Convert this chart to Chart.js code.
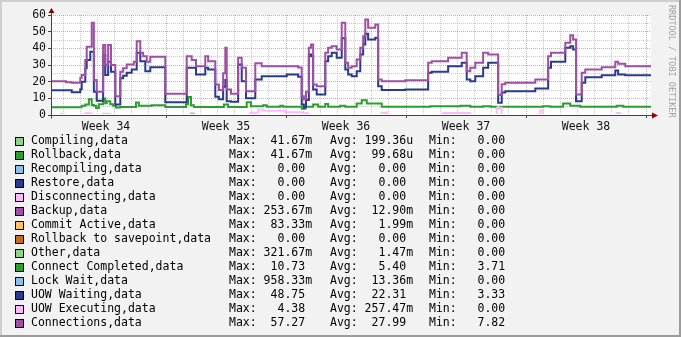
<!DOCTYPE html>
<html>
<head>
<meta charset="utf-8">
<script src="https://cdn.jsdelivr.net/npm/chart.js@4.4.0/dist/chart.umd.min.js"></script>
<style>
  html, body { margin: 0; padding: 0; background: #f2f2f2; }
  #wrap { width: 681px; height: 337px; }
</style>
</head>
<body>
<div id="wrap"><canvas id="rrdChart" width="681" height="337"></canvas></div>
<script>
// time axis: hours since Monday 00:00 of week 34
const spanStart = 7;
const spanEnd = 847;

const weekLabels = ['Week 34', 'Week 35', 'Week 36', 'Week 37', 'Week 38'];
const yTicks = [0, 5, 10, 15, 20, 25, 30, 35, 40, 45, 50, 55, 60];

// Connections / UOW Waiting share their sample times
const connHours = [7, 28, 36, 48, 50, 55, 57, 62, 64, 67, 71, 80, 83, 87, 91, 97, 104, 108, 113, 120,
  123, 127, 132, 136, 139, 141, 146, 167, 197, 204, 210, 223, 227, 237, 242, 248, 251, 253, 259, 269,
  274, 280, 293, 302, 337, 353, 358, 361, 364, 368, 371, 374, 379, 391, 395, 400, 407, 414, 419, 423,
  428, 435, 440, 444, 447, 451, 461, 465, 470, 503, 535, 540, 563, 582, 589, 594, 601, 612, 619, 633,
  638, 643, 685, 703, 707, 727, 734, 738, 742, 750, 755, 778, 797, 801, 811, 847];
const connections = [20.3, 19.6, 19.3, 22.4, 24, 33, 41, 41, 55.3, 21, 14, 42, 30, 42, 30, 11.3, 26, 28, 30.3, 30.3,
  32, 44.3, 37.3, 35.3, 35.3, 32, 35, 12.7, 35.3, 33, 29.3, 35.3, 32.3, 18.3, 15, 25, 40.3, 15.3, 12.7, 34.3,
  28.3, 14.3, 31, 29.3, 29.3, 28.5, 11.3, 9.3, 14, 40.3, 42.3, 18.3, 17.3, 37.3, 40.3, 41.3, 39.3, 55.3, 31.3, 28.3,
  29.3, 33.3, 40.3, 47.3, 57.27, 52.3, 54.3, 21.3, 20.3, 20.8, 31.3, 32.3, 34.3, 37.3, 26.3, 28.3, 31.3, 37.3, 36.3, 12,
  18.5, 19.3, 21.3, 35.3, 37.3, 43.3, 47.9, 45.3, 12.3, 25.3, 27.3, 28.7, 31.9, 30.7, 29.3, 29.3];
const uowWaiting = [14.9, 14.9, 13.7, 15.5, 20, 28, 33, 38, 38, 14, 8.5, 36, 24, 32, 26, 6.3, 22, 23.5, 25.3, 27.3,
  27.3, 37.3, 32.3, 32.3, 26.3, 26.3, 28.7, 7.7, 28.3, 28.3, 24.3, 28.3, 27.3, 11, 9.5, 17, 21, 8.3, 8, 30.3,
  20.3, 10, 21.3, 23.3, 24.3, 23, 6.3, 4.5, 9, 36.3, 35.3, 15.3, 12.3, 32.3, 35.3, 37.3, 34.3, 46, 27.3, 24.3,
  23.3, 26.3, 36.3, 42.3, 48.75, 45.3, 46.3, 17.3, 15, 15.3, 25.3, 26, 29.3, 31.3, 21.3, 20.3, 23.3, 28.3, 31.3, 7.3,
  13.5, 14.3, 15.9, 28.3, 31.9, 40.3, 41.3, 39.3, 8.3, 19.3, 22.7, 23.9, 26.7, 24.3, 23.9, 23.9];

const completedHours = [7, 48, 50, 55, 60, 64, 67, 70, 74, 80, 83, 85, 90, 94, 98, 104, 126, 130, 148, 167,
  196, 199, 203, 207, 249, 255, 281, 287, 304, 309, 328, 332, 358, 363, 374, 381, 391, 395, 412, 419,
  435, 442, 449, 470, 538, 580, 594, 612, 622, 631, 636, 696, 706, 724, 734, 748, 799, 808, 847];
const connectCompleted = [4.7, 4.7, 5.5, 6.3, 9.5, 6, 5.5, 4.2, 6.5, 9.9, 7, 8.3, 6.5, 5.5, 4.5, 4.8, 7.5, 5.6, 5.8, 4.8,
  6.5, 10.73, 5.8, 4.8, 6.3, 4.8, 7.7, 5.2, 5.9, 5, 5.6, 5, 3.71, 5, 6.3, 5, 6.6, 5, 5.6, 5,
  6.9, 8.9, 6.9, 4.9, 5.3, 5.6, 5, 5.3, 5, 4.2, 4.9, 5.3, 5, 6.9, 5.5, 5, 5.6, 4.9, 4.9];

const execHours = [7, 21, 25, 55, 64, 80, 90, 286, 297, 304, 335, 360, 367, 470, 477, 556, 594, 631, 638, 692, 696, 799, 804, 847];
const uowExecuting = [0, 0.8, 0, 1, 0, 0.8, 0, 1.3, 3.3, 2.5, 1.6, 1, 0, 1.3, 0, 1.2, 0, 4.38, 0, 2.7, 0, 1, 0, 0];

const lockHours = [7, 203, 207, 800, 803, 847];
const lockWait = [0, 0.96, 0, 0.9, 0, 0];

// series that stay at (practically) zero for the whole span
const idleHours = [7, 847];
const idle = [0, 0];

const seriesNames = ['Compiling,data', 'Rollback,data', 'Recompiling,data', 'Restore,data',
  'Disconnecting,data', 'Backup,data', 'Commit Active,data', 'Rollback to savepoint,data',
  'Other,data', 'Connect Completed,data', 'Lock Wait,data', 'UOW Waiting,data',
  'UOW Executing,data', 'Connections,data'];
const seriesColors = ['#8fd48a', '#2e9c2e', '#8cc2e6', '#2b3a8c', '#ffb9ff', '#9f4fa4', '#ffc25e', '#c46c1e',
  '#8fd48a', '#2e9c2e', '#8cc2e6', '#2b3a8c', '#ffb9ff', '#9f4fa4'];
const maxText = ['41.67m', '41.67m', '0.00', '0.00', '0.00', '253.67m', '83.33m', '0.00', '321.67m', '10.73', '958.33m', '48.75', '4.38', '57.27'];
const avgText = ['199.36u', '99.68u', '0.00', '0.00', '0.00', '12.90m', '1.99m', '0.00', '1.47m', '5.40', '13.36m', '22.31', '257.47m', '27.99'];
const minText = ['0.00', '0.00', '0.00', '0.00', '0.00', '0.00', '0.00', '0.00', '0.00', '3.71', '0.00', '3.33', '0.00', '7.82'];

const MONO = '"DejaVu Sans Mono", monospace';
const GRID = 'rgba(140,140,140,0.45)';
const MGRID = 'rgba(220,60,60,0.5)';

const pts = (xs, ys) => xs.map((x, i) => ({ x: x, y: ys[i] }));

const seriesData = [
  pts(idleHours, idle), pts(idleHours, idle), pts(idleHours, idle), pts(idleHours, idle),
  pts(idleHours, idle), pts(idleHours, idle), pts(idleHours, idle), pts(idleHours, idle),
  pts(idleHours, idle), pts(completedHours, connectCompleted), pts(lockHours, lockWait),
  pts(connHours, uowWaiting), pts(execHours, uowExecuting), pts(connHours, connections)
];

const datasets = seriesNames.map((name, i) => ({
  label: name,
  data: seriesData[i],
  borderColor: seriesColors[i],
  borderWidth: i < 9 ? 1 : 2,
  stepped: 'before',
  pointRadius: 0,
  fill: false,
  order: seriesNames.length - i,
  clip: { left: 0, top: 0, right: 0, bottom: -1 }
}));

// two pixel frame, plot canvas, axes with arrows, legend table and side credit
const rrdFrame = {
  id: 'rrdFrame',
  beforeDraw(chart) {
    const { ctx, width, height, chartArea: a } = chart;
    ctx.save();
    ctx.fillStyle = '#f2f2f2';
    ctx.fillRect(0, 0, width, height);
    ctx.fillStyle = '#cfcfcf';
    ctx.fillRect(0, 0, width, 2);
    ctx.fillRect(0, 0, 2, height);
    ctx.fillStyle = '#9c9c9c';
    ctx.fillRect(width - 2, 0, 2, height);
    ctx.fillRect(0, height - 2, width, 2);
    ctx.fillStyle = '#ffffff';
    ctx.fillRect(a.left, a.top, a.right - a.left, a.bottom - a.top + 1);
    ctx.restore();
  },
  afterDatasetsDraw(chart) {
    const { ctx, chartArea: a } = chart;
    const x0 = Math.round(a.left) + 0.5;
    const y0 = Math.round(a.bottom) + 0.5;
    ctx.save();
    ctx.strokeStyle = '#4a4040';
    ctx.lineWidth = 1;
    ctx.beginPath();
    ctx.moveTo(x0, a.top - 3);
    ctx.lineTo(x0, y0 + 3);
    ctx.moveTo(x0 - 3, y0);
    ctx.lineTo(a.right + 2, y0);
    ctx.stroke();
    ctx.fillStyle = '#8b0000';
    ctx.beginPath();
    ctx.moveTo(x0, a.top - 7);
    ctx.lineTo(x0 - 3, a.top - 2);
    ctx.lineTo(x0 + 3, a.top - 2);
    ctx.closePath();
    ctx.fill();
    ctx.beginPath();
    ctx.moveTo(a.right + 7, y0);
    ctx.lineTo(a.right + 1, y0 - 3);
    ctx.lineTo(a.right + 1, y0 + 3);
    ctx.closePath();
    ctx.fill();
    ctx.restore();
  },
  afterDraw(chart) {
    const { ctx } = chart;
    const col = (head, s) => {
      const unit = /[a-z]$/.test(s) ? s.slice(-1) : '';
      const num = unit ? s.slice(0, -1) : s;
      return head + ' ' + num.padStart(6) + unit;
    };
    ctx.save();
    ctx.font = '11.5px ' + MONO;
    ctx.textBaseline = 'middle';
    ctx.textAlign = 'left';
    seriesNames.forEach((name, i) => {
      const y = 141 + i * 14;
      ctx.fillStyle = seriesColors[i];
      ctx.fillRect(15, y - 4, 9, 9);
      ctx.strokeStyle = '#000';
      ctx.lineWidth = 1;
      ctx.strokeRect(15.5, y - 3.5, 8, 8);
      ctx.fillStyle = '#000';
      ctx.fillText(name, 31, y);
      ctx.fillText(col('Max:', maxText[i]), 229, y);
      ctx.fillText(col('Avg:', avgText[i]), 330, y);
      ctx.fillText(col('Min:', minText[i]), 429, y);
    });
    ctx.translate(671.5, 5);
    ctx.rotate(Math.PI / 2);
    ctx.font = '8.5px ' + MONO;
    ctx.fillStyle = '#a3a3a3';
    ctx.fillText('RRDTOOL / TOBI OETIKER', 0, 0);
    ctx.restore();
  }
};

new Chart(document.getElementById('rrdChart'), {
  type: 'line',
  data: { datasets: datasets },
  options: {
    responsive: false,
    animation: false,
    events: [],
    layout: { padding: { left: 0, right: 30, top: 15, bottom: 202 } },
    plugins: { legend: { display: false }, tooltip: { enabled: false } },
    scales: {
      x: {
        type: 'linear',
        min: spanStart,
        max: spanEnd,
        afterBuildTicks: (s) => {
          const t = [];
          for (let h = 12; h < spanEnd; h += 12) t.push({ value: h });
          s.ticks = t;
        },
        afterFit: (s) => { s.height = 20; },
        grid: {
          color: (c) => c.tick.value % 168 === 0 ? MGRID : (c.tick.value % 24 === 0 ? GRID : 'rgba(0,0,0,0)'),
          tickColor: (c) => c.tick.value % 168 === 0 ? '#4a4040' : 'rgba(0,0,0,0)',
          tickLength: 3,
          lineWidth: 1
        },
        border: { display: false, dash: [1, 1] },
        ticks: {
          autoSkip: false,
          maxRotation: 0,
          minRotation: 0,
          padding: 2,
          color: '#111',
          font: { family: MONO, size: 11.5 },
          callback: (v) => ((v - 84) % 168 === 0 ? weekLabels[(v - 84) / 168] : '')
        }
      },
      y: {
        type: 'linear',
        min: 0,
        max: 60,
        afterBuildTicks: (s) => { s.ticks = yTicks.map((v) => ({ value: v })); },
        afterFit: (s) => { s.width = 51; },
        grid: {
          color: (c) => c.tick.value === 0 ? 'rgba(0,0,0,0)' : (c.tick.value % 10 === 0 ? MGRID : GRID),
          tickColor: (c) => c.tick.value % 10 === 0 ? '#4a4040' : 'rgba(0,0,0,0)',
          tickLength: 3,
          lineWidth: 1
        },
        border: { display: false, dash: [1, 1] },
        ticks: {
          autoSkip: false,
          padding: 2,
          color: '#111',
          font: { family: MONO, size: 11.5 },
          callback: (v) => (v % 10 === 0 ? String(v) : '')
        }
      }
    }
  },
  plugins: [rrdFrame]
});
</script>
</body>
</html>
